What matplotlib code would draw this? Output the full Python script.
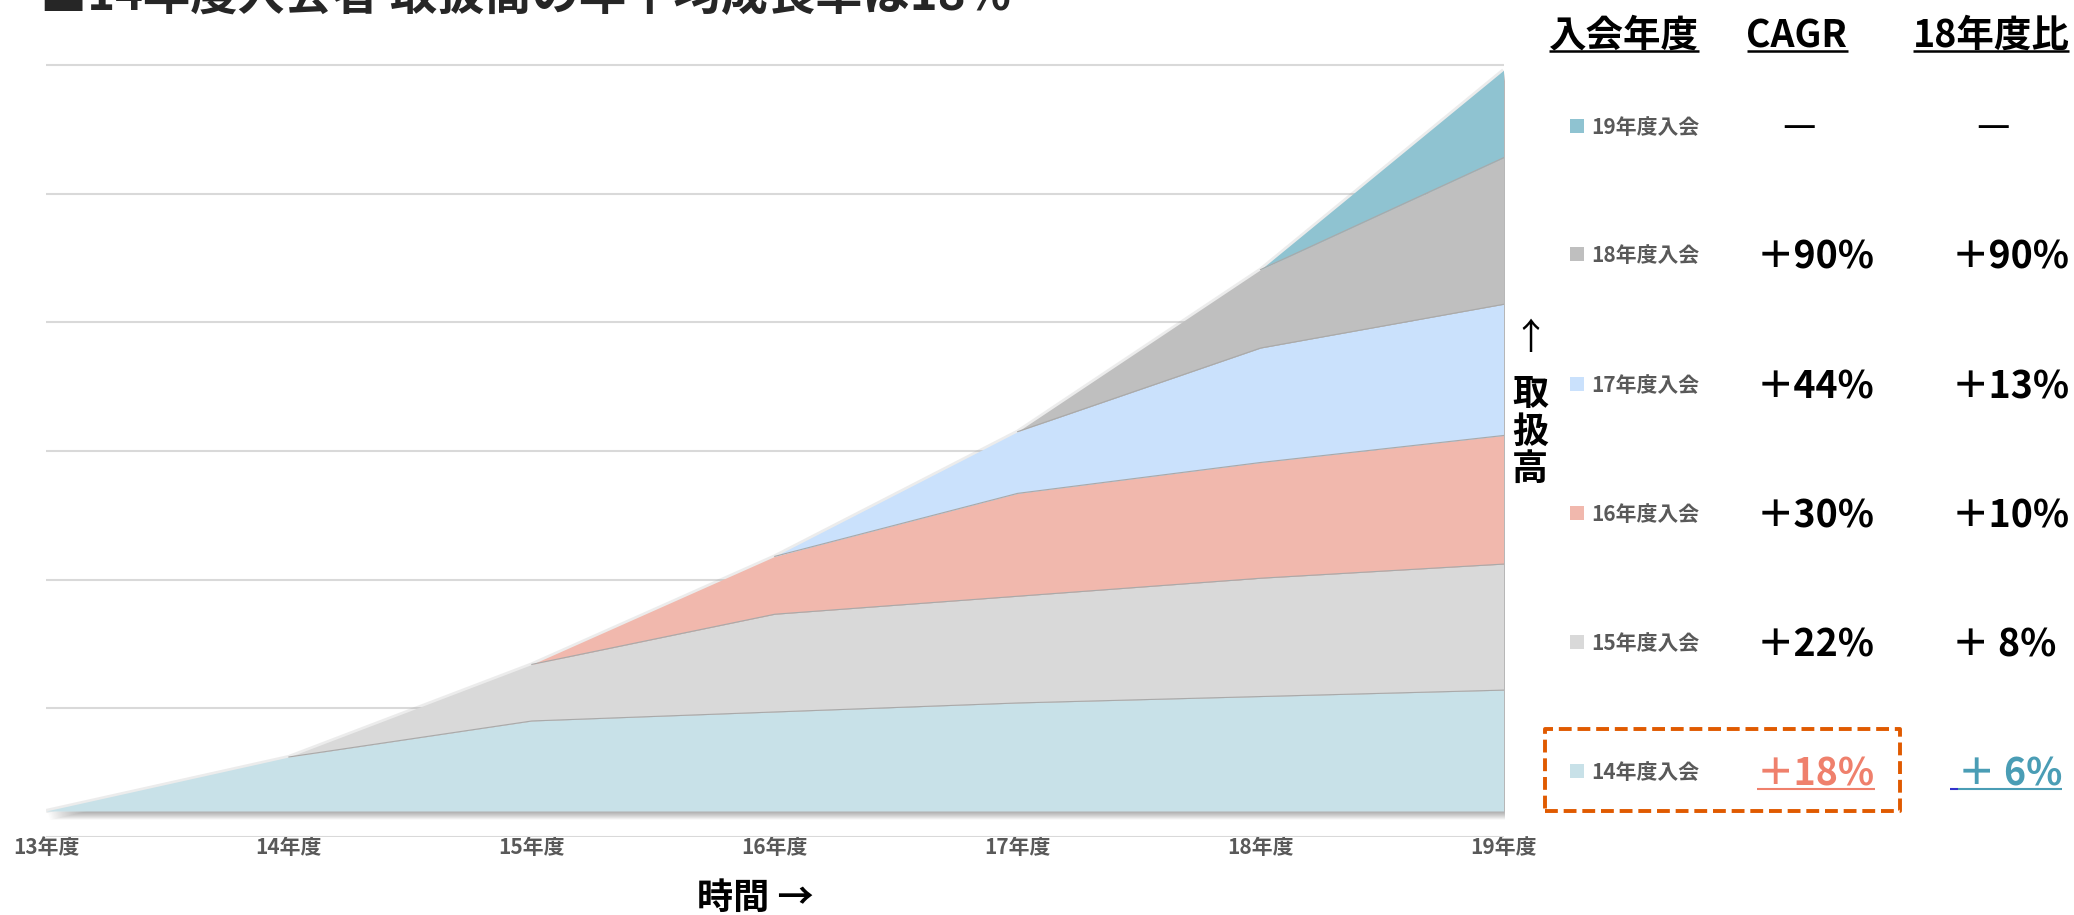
import matplotlib
matplotlib.use("Agg")
import matplotlib.pyplot as plt
import matplotlib.transforms as mtransforms
from matplotlib.patches import Rectangle
from matplotlib.lines import Line2D
import numpy as np

plt.rcParams['font.family'] = ['Noto Sans CJK JP', 'DejaVu Sans']

# ---- data -------------------------------------------------------------
years = ["13年度", "14年度", "15年度", "16年度", "17年度", "18年度", "19年度"]
cohorts = ["14年度入会", "15年度入会", "16年度入会", "17年度入会", "18年度入会", "19年度入会"]

# transaction volume by joining cohort (stacked, arbitrary units)
vol_14 = [0, 42, 70, 77, 84, 89, 94]
vol_15 = [0, 0, 44, 76, 83, 92, 98]
vol_16 = [0, 0, 0, 45, 80, 90, 100]
vol_17 = [0, 0, 0, 0, 48, 89, 102]
vol_18 = [0, 0, 0, 0, 0, 61, 114]
vol_19 = [0, 0, 0, 0, 0, 0, 68]

cagr_labels = ["＋18%", "＋22%", "＋30%", "＋44%", "＋90%", "—"]
vs18_labels = ["＋ 6%", "＋ 8%", "＋10%", "＋13%", "＋90%", "—"]

title = "■14年度入会者 取扱高の年平均成長率は18%"
headers = ["入会年度", "CAGR", "18年度比"]

# ---- styling ----------------------------------------------------------
layer_colors = ["#C8E1E8", "#D9D9D9", "#F1B8AD", "#CAE1FC", "#BFBFBF", "#8FC3D1"]
label_gray = "#595959"
accent_orange = "#E05A00"
accent_salmon = "#EF806C"
accent_teal = "#4A9DB5"

W, H, DPI = 2074, 915, 100
fig = plt.figure(figsize=(W / DPI, H / DPI), dpi=DPI)
fig.patch.set_facecolor("white")


def fx(px):
    return px / W


def fy(py):
    return 1 - py / H


# plot area geometry (pixels)
x_left, x_right = 46, 1503.5
base_px, px_per_unit = 811, 1.286
y_lo, y_hi = -20.5, 582
ax_bottom_px = base_px - y_lo * px_per_unit
ax_top_px = base_px - y_hi * px_per_unit
ax = fig.add_axes([fx(x_left), fy(ax_bottom_px), (x_right - x_left) / W,
                   (ax_bottom_px - ax_top_px) / H])

x = np.arange(len(years))
layers = np.array([vol_14, vol_15, vol_16, vol_17, vol_18, vol_19], dtype=float)
cum = np.cumsum(layers, axis=0)
total = cum[-1]

# soft drop shadow under the whole stack
for k in range(1, 9):
    tr = mtransforms.offset_copy(ax.transData, fig=fig, x=0.35 * k, y=-1.0 * k, units="dots")
    ax.fill_between(x, 0, total, transform=tr, color="black", alpha=0.045, lw=0, zorder=1.5)
ax.plot(x, total, color="#9a9a9a", lw=3.0, alpha=0.18, zorder=1.6, solid_capstyle="butt")

lower = np.zeros(len(x))
for i, c in enumerate(layer_colors):
    ax.fill_between(x, lower, cum[i], color=c, lw=0, zorder=2)
    lower = cum[i]

# thin separators between cohorts
for i in range(len(layers) - 1):
    start = max(int(np.argmax(layers[i + 1] > 0)) - 1, 0)
    ax.plot(x[start:], cum[i][start:], color="#a9a9a9", lw=0.8, zorder=3)

ax.set_xlim(0, len(years) - 1)
ax.set_ylim(y_lo, y_hi)
ax.set_yticks(np.arange(-20, 581, 100))
ax.yaxis.grid(True, color="#d9d9d9", lw=1.5)
ax.set_axisbelow(True)
ax.tick_params(axis="y", length=0, labelleft=False)
ax.set_xticks(x, years)
ax.tick_params(axis="x", length=0, pad=0, labelsize=15, labelcolor=label_gray)
for lbl in ax.get_xticklabels():
    lbl.set_fontweight("bold")
for s in ax.spines.values():
    s.set_visible(False)

ax.set_xlabel("時間 →", fontsize=26, fontweight="bold", color="black")
ax.xaxis.label.set_va("center")
ax.xaxis.set_label_coords((755 - x_left) / (x_right - x_left),
                          -(898 - ax_bottom_px) / (ax_bottom_px - ax_top_px))

# vertical axis caption
fig.text(fx(1530), fy(339), "↑", fontsize=26, ha="center", va="center", color="black")
for ch, yy in zip("取扱高", [394, 432, 469]):
    fig.text(fx(1530), fy(yy), ch, fontsize=26, fontweight="bold", ha="center", va="center",
             color="black")

# title (runs off the top edge)
fig.text(fx(40), fy(10), title, fontsize=34, fontweight="bold", ha="left", va="baseline",
         color="#262626")

# ---- side table -------------------------------------------------------
header_x = [1624, 1797, 1991]
header_texts = [fig.text(fx(hx), fy(47), h, fontsize=27, fontweight="bold", ha="center",
                         va="baseline", color="black") for hx, h in zip(header_x, headers)]

row_y = [771, 642, 513, 384, 254, 126]
cagr_x, vs18_x = 1757, 1952
dash_x = [1799, 1993]

value_texts = {}
for i, (name, col, cg, v18, ry) in enumerate(zip(cohorts, layer_colors, cagr_labels,
                                                   vs18_labels, row_y)):
    fig.add_artist(Rectangle((fx(1570), fy(ry + 7)), 14 / W, 14 / H, transform=fig.transFigure,
                             facecolor=col, edgecolor="none"))
    fig.text(fx(1591), fy(ry + 8), name, fontsize=15, fontweight="bold", ha="left",
             va="baseline", color=label_gray)
    if cg == "—":
        fig.text(fx(dash_x[0]), fy(ry + 11), cg, fontsize=27, ha="center", va="baseline",
                 color="black")
        fig.text(fx(dash_x[1]), fy(ry + 11), v18, fontsize=27, ha="center", va="baseline",
                 color="black")
        continue
    c1 = accent_salmon if i == 0 else "black"
    c2 = accent_teal if i == 0 else "black"
    x2 = vs18_x + 6 if i == 0 else vs18_x
    value_texts[(i, 0)] = fig.text(fx(cagr_x), fy(ry + 14.5), cg, fontsize=27,
                                   fontweight="bold", ha="left", va="baseline", color=c1)
    value_texts[(i, 1)] = fig.text(fx(x2), fy(ry + 14.5), v18, fontsize=27,
                                   fontweight="bold", ha="left", va="baseline", color=c2)

# highlight frame around the 14年度 row
fig.add_artist(Rectangle((fx(1545), fy(811)), 355 / W, 82 / H, transform=fig.transFigure,
                         fill=False, edgecolor=accent_orange, lw=2.8,
                         linestyle=(0, (3.3, 1.5)), joinstyle="round"))

# underlines
fig.canvas.draw()
renderer = fig.canvas.get_renderer()


def underline(t, y_px, color, lw, x_start=None):
    bb = t.get_window_extent(renderer)
    x0 = bb.x0 if x_start is None else x_start
    fig.add_artist(Line2D([fx(x0), fx(bb.x1)], [fy(y_px)] * 2, transform=fig.transFigure,
                          color=color, lw=lw, solid_capstyle="butt"))


for t in header_texts:
    underline(t, 51, "black", 1.8)
underline(value_texts[(0, 0)], 789, accent_salmon, 1.5)
bb6 = value_texts[(0, 1)].get_window_extent(renderer)
underline(value_texts[(0, 1)], 789, accent_teal, 1.5)
fig.add_artist(Line2D([fx(bb6.x0 - 8), fx(bb6.x0)], [fy(789)] * 2, transform=fig.transFigure,
                      color="#3333CC", lw=1.5, solid_capstyle="butt"))

fig.savefig("out.png", dpi=DPI)
